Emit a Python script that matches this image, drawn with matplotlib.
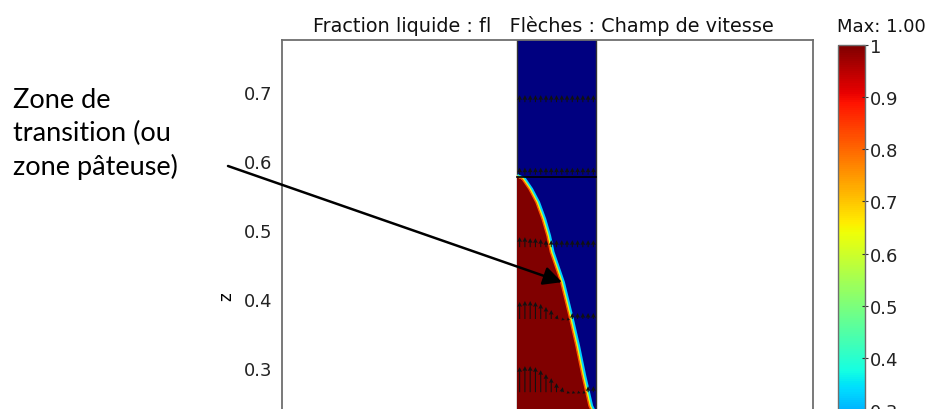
import numpy as np
import matplotlib.pyplot as plt
from matplotlib import cm, colors

# domaine (r, z) en m
domain_r = [0.0, 0.1145]
domain_z = [0.04, 0.78]
boundary_z = 0.576  # frontiere horizontale du maillage

# front de solidification
interface_r = [0.0, 0.009, 0.019, 0.029, 0.038, 0.045, 0.050, 0.065, 0.077, 0.087, 0.096, 0.106, 0.1145]
interface_z = [0.578, 0.5736, 0.559, 0.540, 0.5156, 0.4914, 0.4678, 0.4243, 0.3754, 0.332, 0.2885, 0.245, 0.228]

# champ de vitesse : 5 rangees de 15 fleches (u.a.)
arrow_rows_z = [0.685, 0.58, 0.475, 0.371, 0.265]
w_row1 = [7, 7, 7, 7, 7, 7, 7, 7, 7, 7, 7, 7, 7, 7, 7]
w_row2 = [7, 7, 7, 7, 7, 7, 7, 7, 7, 7, 7, 7, 7, 7, 7]
w_row3 = [10, 10, 9, 9, 8, 7, 7, 7, 7, 7, 7, 7, 7, 7, 7]
w_row4 = [17, 18, 18, 17, 15, 12, 9, 4, -1, -1, 6, 6, 6, 6, 6]
w_row5 = [25, 26, 26, 25, 22, 18, 14, 9, 5, -1, -1, -1, -1, 6, 6]
u_row4 = [0, 0, 0, 0, 0, 0, 0, 1, 3, 3, 0, 0, 0, 0, 0]
u_row5 = [0, 0, 0, 0, 0, 0, 0, 0, 1, 3, 3, 3, 3, 0, 0]

yticks = [0.3, 0.4, 0.5, 0.6, 0.7]
cb_ticks = [0, 0.1, 0.2, 0.3, 0.4, 0.5, 0.6, 0.7, 0.8, 0.9, 1.0]
cb_labels = ['0', '0.1', '0.2', '0.3', '0.4', '0.5', '0.6', '0.7', '0.8', '0.9', '1']

arrow_tip = (0.0652, 0.4243)

jet = plt.get_cmap('jet')
plt.rcParams['font.family'] = 'DejaVu Sans'

fig = plt.figure(figsize=(9.36, 4.10), dpi=100)
ax = fig.add_axes([282/936, (410-552)/410, 531/936, 511/410])
ax.set_xlim(-0.3406, 0.429)
ax.set_ylim(0.035, 0.775)

# domaine solide (fl = 0)
dom = ax.fill_betweenx(domain_z, domain_r[0], domain_r[1], color=jet(0.0),
                       edgecolor='#333333', lw=1, zorder=1)
clip = (dom.get_paths()[0], ax.transData)

# zone liquide (fl = 1)
rr = np.concatenate([[domain_r[0]], interface_r, [domain_r[1]]])
zz = np.concatenate([[domain_z[0]], interface_z, [domain_z[0]]])
liq = ax.fill(rr, zz, color=jet(1.0), lw=0, zorder=2)[0]
liq.set_clip_path(*clip)

# zone de transition
ir = np.array(interface_r)
for off, c, lw in [(0.0022, 0.33, 2.2), (0.0, 0.62, 1.4), (-0.0016, 0.82, 1.0)]:
    ln, = ax.plot(ir + off, interface_z, color=jet(c), lw=lw, zorder=3)
    ln.set_clip_path(*clip)

ax.plot(domain_r, [boundary_z, boundary_z], color='black', lw=1.2, zorder=4)

# fleches
ncol = len(w_row1)
xcol = domain_r[0] + (np.arange(ncol) + 0.5) * (domain_r[1] - domain_r[0]) / ncol
W = np.array([w_row1, w_row2, w_row3, w_row4, w_row5], dtype=float)
U = np.zeros_like(W)
U[3] = u_row4
U[4] = u_row5
X, Z = np.meshgrid(xcol, arrow_rows_z)
ax.quiver(X, Z, U, W, angles='xy', scale_units='xy', scale=690, pivot='tail',
          width=0.002, headwidth=4.5, headlength=4.5, headaxislength=4,
          color='#111111', zorder=5)

for s in ax.spines.values():
    s.set_color('#6e6e6e')
    s.set_linewidth(1.3)
ax.set_yticks(yticks)
ax.set_yticklabels([f'{t:.1f}' for t in yticks])
ax.tick_params(axis='y', length=0, pad=7, labelsize=13, labelcolor='#222222')
ax.set_xticks([])
ax.set_ylabel('z', fontsize=12)
ax.yaxis.set_label_coords(-0.088, 0.5)

# barre de couleur
cax = fig.add_axes([838/936, (410-568)/410, 27/936, (568-45.7)/410])
sm = cm.ScalarMappable(norm=colors.Normalize(0, 1), cmap=jet)
cb = fig.colorbar(sm, cax=cax)
cb.set_ticks(cb_ticks)
cb.set_ticklabels(cb_labels)
cb.outline.set_edgecolor('#6e6e6e')
cb.outline.set_linewidth(1)
cax.tick_params(direction='inout', length=5, width=0.8, pad=1, labelsize=13,
                color='#333333', labelcolor='#222222')

fig.text(543/936, 1 - 32/410, 'Fraction liquide : fl   Flèches : Champ de vitesse',
         ha='center', va='baseline', fontsize=13.9, color='#111111')
fig.text(837/936, 1 - 32/410, 'Max: 1.00', ha='left', va='baseline',
         fontsize=13, color='#111111')

fig.text(13/936, 1 - 88/410, 'Zone de\ntransition (ou\nzone pâteuse)',
         ha='left', va='top', fontsize=19.5, family='Lato', color='black',
         linespacing=1.38)
ax.annotate('', xy=arrow_tip, xycoords='data',
            xytext=(228/936, 1 - 167/410), textcoords='figure fraction',
            arrowprops=dict(arrowstyle='-|>', color='black', lw=1.8,
                            mutation_scale=28, shrinkA=0, shrinkB=0),
            annotation_clip=False, zorder=6)

fig.savefig('out.png', dpi=100)
